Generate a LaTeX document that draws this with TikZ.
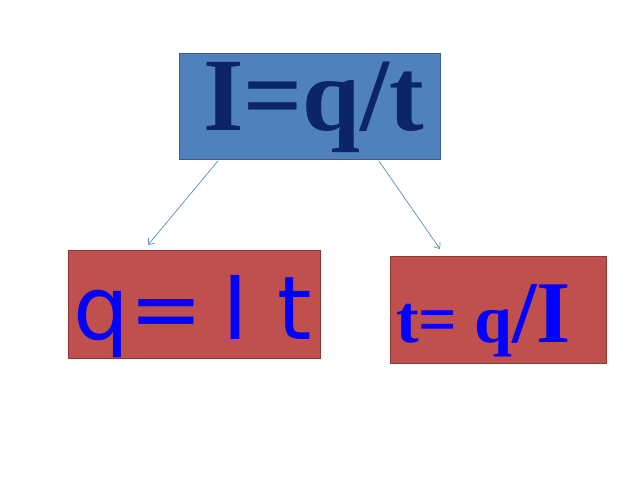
\documentclass[tikz,border=0pt]{standalone}
\usepackage{fontspec}
\setmainfont{Liberation Serif}
\newfontfamily\sansfont{DejaVu Sans}
\usetikzlibrary{arrows.meta}
\definecolor{topfill}{HTML}{4F81BD}
\definecolor{topdraw}{HTML}{385D8A}
\definecolor{redfill}{HTML}{C0504D}
\definecolor{reddraw}{HTML}{8C3836}
\definecolor{navytext}{HTML}{0B2566}
\definecolor{bluetext}{HTML}{0000FF}
\definecolor{arrowcol}{HTML}{5B8AC6}
\tikzset{
  box/.style={rectangle, inner sep=0pt, line width=0.8pt, anchor=north west},
  topbox/.style={box, fill=topfill, draw=topdraw},
  redbox/.style={box, fill=redfill, draw=reddraw},
  label/.style={inner sep=0pt, anchor=base west},
  conn/.style={draw=arrowcol, line width=0.7pt, -{Straight Barb[length=5pt,width=8pt]}}
}
\begin{document}
\begin{tikzpicture}[x=1pt,y=-1pt]
\useasboundingbox[fill=white] (0,0) rectangle (640,480);
\node[topbox, minimum width=261pt, minimum height=106pt] (top) at (179,53) {};
\node[redbox, minimum width=252pt, minimum height=108pt] (left) at (68,250) {};
\node[redbox, minimum width=216pt, minimum height=107pt] (right) at (390,256) {};
\node[label, text=navytext] (toptext) at (203,130) {\fontsize{104}{104}\selectfont\bfseries I=q/t};
\node[label, text=bluetext] (lefttext) at (73,339) {\sansfont\fontsize{88}{88}\selectfont q=\hspace{20pt}I\hspace{29pt}t};
\node[label, text=bluetext] (righttext) at (396,342) {\bfseries\fontsize{68}{68}\selectfont t= q\fontsize{88}{88}\selectfont/I};
\draw[conn] ([xshift=39pt,yshift=-1pt]top.south west) -- ([xshift=80pt,yshift=5pt]left.north west);
\draw[conn] ([xshift=-62pt,yshift=-1pt]top.south east) -- ([xshift=50pt,yshift=7pt]right.north west);
\end{tikzpicture}
\end{document}
